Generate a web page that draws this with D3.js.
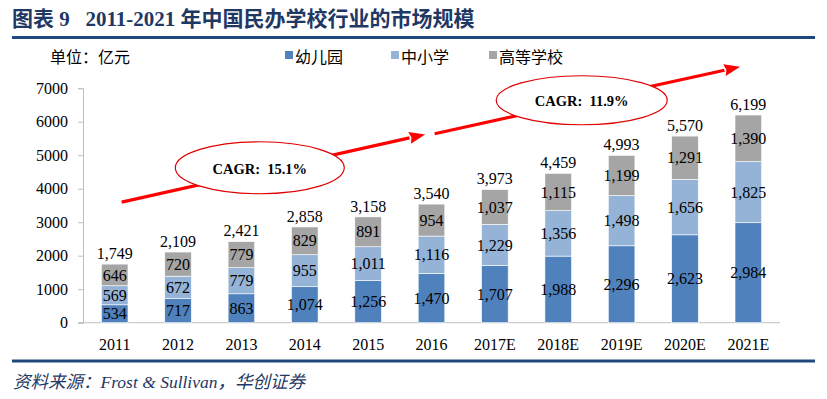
<!DOCTYPE html>
<html><head><meta charset="utf-8">
<script src="https://cdn.jsdelivr.net/npm/d3@7"></script>
<style>body{margin:0;background:#fff}svg{display:block}</style>
</head><body>
<svg id="c" width="827" height="399"></svg>
<script>
const years = ["2011","2012","2013","2014","2015","2016","2017E","2018E","2019E","2020E","2021E"];
const kindergarten = [534,717,863,1074,1256,1470,1707,1988,2296,2623,2984];
const k12 = [569,672,779,955,1011,1116,1229,1356,1498,1656,1825];
const higher = [646,720,779,829,891,954,1037,1115,1199,1291,1390];
const totals = [1749,2109,2421,2858,3158,3540,3973,4459,4993,5570,6199];
const seriesNames = ["幼儿园","中小学","高等学校"];
const seriesColors = ["#4f81bd","#95b3d7","#a5a5a5"];
const yTicks = [0,1000,2000,3000,4000,5000,6000,7000];
const cagrLabels = ["CAGR:  15.1%","CAGR:  11.9%"];

const svg = d3.select("#c");
const serif = "'Liberation Serif','Times New Roman',serif";
const sans = "'Noto Sans CJK SC','Liberation Sans',sans-serif";

// title
svg.append("text").attr("x",12).attr("y",26)
  .attr("font-family", "'Liberation Serif','Noto Sans CJK SC',serif")
  .attr("font-weight","bold").attr("font-size",21).attr("fill","#1f3864")
  .text("图表 9\u00a0\u00a0\u00a02011-2021 年中国民办学校行业的市场规模");
svg.append("line").attr("x1",12).attr("x2",815).attr("y1",37.5).attr("y2",37.5)
  .attr("stroke","#1f497d").attr("stroke-width",3);
svg.append("line").attr("x1",12).attr("x2",815).attr("y1",361).attr("y2",361)
  .attr("stroke","#1f497d").attr("stroke-width",3);
svg.append("text").attr("x",13).attr("y",388)
  .attr("font-family","'Liberation Serif','Noto Sans CJK SC',serif").attr("font-style","italic")
  .attr("font-size",17.5).attr("fill","#1f3864")
  .text("资料来源：Frost & Sullivan，华创证券");

// unit & legend
svg.append("text").attr("x",50).attr("y",63).attr("font-family",sans).attr("font-size",16).attr("fill","#000").text("单位：亿元");
const legX = [285,391,489];
seriesNames.forEach((n,i)=>{
  svg.append("rect").attr("x",legX[i]).attr("y",51).attr("width",8).attr("height",8).attr("fill",seriesColors[i]);
  svg.append("text").attr("x",legX[i]+10).attr("y",63).attr("font-family",sans).attr("font-size",16).attr("fill","#000").text(n);
});

const x = d3.scaleBand().domain(years).range([83,780]).paddingInner(0.58).paddingOuter(0.29);
const y = d3.scaleLinear().domain([0,7000]).range([322.7,88.2]);

// y axis
const ya = svg.append("g").attr("transform","translate(83,0)")
  .call(d3.axisLeft(y).tickValues(yTicks).tickSize(5).tickPadding(10).tickFormat(d3.format("d")));
ya.select(".domain").attr("stroke","#bfbfbf");
ya.selectAll(".tick line").attr("stroke","#bfbfbf");
ya.selectAll("text").attr("font-family",serif).attr("font-size",16).attr("fill","#000");

// x axis
const xa = svg.append("g").attr("transform","translate(0,322.7)")
  .call(d3.axisBottom(x).tickSize(0).tickPadding(16));
xa.select(".domain").remove();
svg.append("line").attr("x1",78).attr("x2",780).attr("y1",322.7).attr("y2",322.7).attr("stroke","#bfbfbf");
xa.selectAll("text").attr("font-family",serif).attr("font-size",16).attr("fill","#000");

// bars
const data = years.map((yr,i)=>({yr, total: totals[i]}));
const stackData = years.map((yr,i)=>({yr, s0:kindergarten[i], s1:k12[i], s2:higher[i]}));
const stack = d3.stack().keys(["s0","s1","s2"])(stackData);
const fmt = d3.format(",");
stack.forEach((layer,li)=>{
  svg.append("g").selectAll("rect").data(layer).join("rect")
    .attr("x",d=>x(d.data.yr)).attr("width",x.bandwidth())
    .attr("y",d=>y(d[1])).attr("height",d=>y(d[0])-y(d[1]))
    .attr("fill",seriesColors[li]).attr("stroke","#ffffff").attr("stroke-width",0.6);
  svg.append("g").selectAll("text").data(layer).join("text")
    .attr("x",d=>x(d.data.yr)+x.bandwidth()/2).attr("y",d=>(y(d[0])+y(d[1]))/2)
    .attr("dy","0.35em").attr("text-anchor","middle")
    .attr("font-family",serif).attr("font-size",16).attr("fill","#000")
    .text(d=>fmt(d[1]-d[0]));
});
svg.append("g").selectAll("text").data(data).join("text")
  .attr("x",d=>x(d.yr)+x.bandwidth()/2).attr("y",d=>y(d.total)-11)
  .attr("dy","0.35em").attr("text-anchor","middle")
  .attr("font-family",serif).attr("font-size",16).attr("fill","#000")
  .text(d=>fmt(d.total));

// CAGR annotations (positions in band/value space)
const step = x.step();
const cx = i => x(years[0]) + x.bandwidth()/2 + i*step;
const arrows = [
  {x1:cx(0.11), y1:y(3600), x2:cx(4.9), y2:y(5620)},
  {x1:cx(5.05), y1:y(5640), x2:cx(9.87), y2:y(7640)}
];
const ellipses = [
  {cx:cx(2.29), cy:y(4625), rx:84.5, ry:26},
  {cx:cx(7.37), cy:y(6640), rx:85.5, ry:24.5}
];
arrows.forEach(a=>{
  const ang = Math.atan2(a.y2-a.y1, a.x2-a.x1);
  const hl = 16, hw = 6;
  const bx = a.x2 - hl*Math.cos(ang), by = a.y2 - hl*Math.sin(ang);
  svg.append("line").attr("x1",a.x1).attr("y1",a.y1).attr("x2",bx).attr("y2",by)
    .attr("stroke","#ff0000").attr("stroke-width",3.2);
  const px = -Math.sin(ang), py = Math.cos(ang);
  svg.append("path").attr("d",`M${a.x2},${a.y2}L${bx+px*hw},${by+py*hw}L${bx+2*Math.cos(ang)},${by+2*Math.sin(ang)}L${bx-px*hw},${by-py*hw}Z`)
    .attr("fill","#ff0000");
});
ellipses.forEach((e,i)=>{
  svg.append("ellipse").attr("cx",e.cx).attr("cy",e.cy).attr("rx",e.rx).attr("ry",e.ry)
    .attr("fill","#fff").attr("stroke","#e00000").attr("stroke-width",1.2);
  svg.append("text").attr("x",e.cx).attr("y",e.cy+1).attr("dy","0.35em").attr("text-anchor","middle")
    .attr("font-family",serif).attr("font-weight","bold").attr("font-size",14.5).attr("fill","#000")
    .style("white-space","pre")
    .text(cagrLabels[i]);
});
</script>
</body></html>
